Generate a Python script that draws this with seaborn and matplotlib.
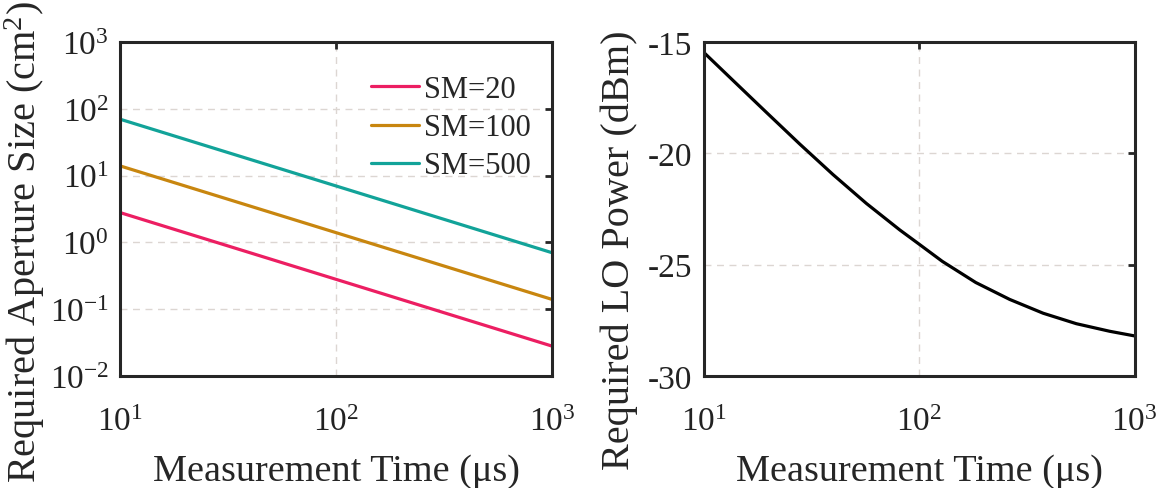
import numpy as np
import pandas as pd
import matplotlib
matplotlib.use("Agg")
import matplotlib.pyplot as plt
import matplotlib.ticker as mticker
import seaborn as sns

# Dados
tempo_abertura = [10, 100, 1000]
abertura_sm20 = [2.8, 0.28, 0.028]
abertura_sm100 = [14, 1.4, 0.14]
abertura_sm500 = [70, 7.0, 0.70]
rotulos_sm = ["SM=20", "SM=100", "SM=500"]
cores_sm = ["#EC1E62", "#C8860F", "#12A399"]

tempo_lo = [10, 13.7, 19.5, 27.9, 39.8, 56.9, 81.3, 100, 128, 183, 263, 376, 536, 765, 1000]
potencia_lo = [-15.46, -16.73, -18.15, -19.58, -20.95, -22.25, -23.44, -24.08,
               -24.85, -25.80, -26.56, -27.18, -27.65, -27.99, -28.2]

sns.set_theme(style="white")
plt.rcParams["font.family"] = ["Liberation Serif", "DejaVu Serif"]
plt.rcParams["mathtext.fontset"] = "custom"
plt.rcParams["mathtext.rm"] = "Liberation Serif"
plt.rcParams["mathtext.it"] = "Liberation Serif:italic"
plt.rcParams["axes.unicode_minus"] = False

cor_grade = "#dcd6d2"
cor_eixo = "#262626"

df_abertura = pd.DataFrame({
    "Tempo": tempo_abertura * 3,
    "Abertura": abertura_sm20 + abertura_sm100 + abertura_sm500,
    "SM": [rotulos_sm[0]] * 3 + [rotulos_sm[1]] * 3 + [rotulos_sm[2]] * 3,
})
df_lo = pd.DataFrame({"Tempo": tempo_lo, "Potencia": potencia_lo})

fig = plt.figure(figsize=(11.65, 4.89), dpi=100)
ax1 = fig.add_axes([0.103, 0.229, 0.371, 0.683])
ax2 = fig.add_axes([0.604, 0.229, 0.370, 0.683])

sns.lineplot(data=df_abertura, x="Tempo", y="Abertura", hue="SM",
             palette=dict(zip(rotulos_sm, cores_sm)), linewidth=2.3, ax=ax1)
ax1.set_xscale("log")
ax1.set_yscale("log")
ax1.set_xlim(10, 1000)
ax1.set_ylim(1e-2, 1e3)
ax1.set_yticks([1e-2, 1e-1, 1e0, 1e1, 1e2, 1e3])
ax1.set_xticks([10, 100, 1000])
ax1.set_ylabel("Required Aperture Size (cm$^2$)", fontsize=29)
ax1.yaxis.set_label_coords(-0.169, 0.405)
leg = ax1.legend(loc="upper right", bbox_to_anchor=(1.0, 0.965), frameon=False,
                 fontsize=22, handlelength=1.6, handletextpad=0.15,
                 labelspacing=0.3, borderaxespad=0.3)
for h in leg.get_lines():
    h.set_linewidth(2.3)

sns.lineplot(data=df_lo, x="Tempo", y="Potencia", color="black", linewidth=2.3, ax=ax2)
ax2.set_xscale("log")
ax2.set_xlim(10, 1000)
ax2.set_ylim(-30, -15)
ax2.set_yticks([-30, -25, -20, -15])
ax2.set_xticks([10, 100, 1000])
ax2.set_ylabel("Required LO Power (dBm)", fontsize=29)
ax2.yaxis.set_label_coords(-0.153, 0.38)

for ax in (ax1, ax2):
    ax.xaxis.set_minor_locator(mticker.NullLocator())
    ax.yaxis.set_minor_locator(mticker.NullLocator())
    ax.xaxis.set_major_formatter(mticker.LogFormatterMathtext())
    ax.grid(True, linestyle=(0, (5, 4)), color=cor_grade, linewidth=1.0)
    ax.set_xlabel("Measurement Time (μs)", fontsize=27.5, labelpad=12)
    ax.tick_params(direction="in", length=5, width=2, colors=cor_eixo,
                   labelsize=24, top=True, right=True, labelcolor="#222222")
    ax.tick_params(axis="x", pad=22)
    ax.tick_params(axis="y", pad=8)
    for s in ax.spines.values():
        s.set_color(cor_eixo)
        s.set_linewidth(2.2)
        s.set_visible(True)

ax1.yaxis.set_major_formatter(mticker.LogFormatterMathtext())

fig.savefig("out.png", dpi=100)
